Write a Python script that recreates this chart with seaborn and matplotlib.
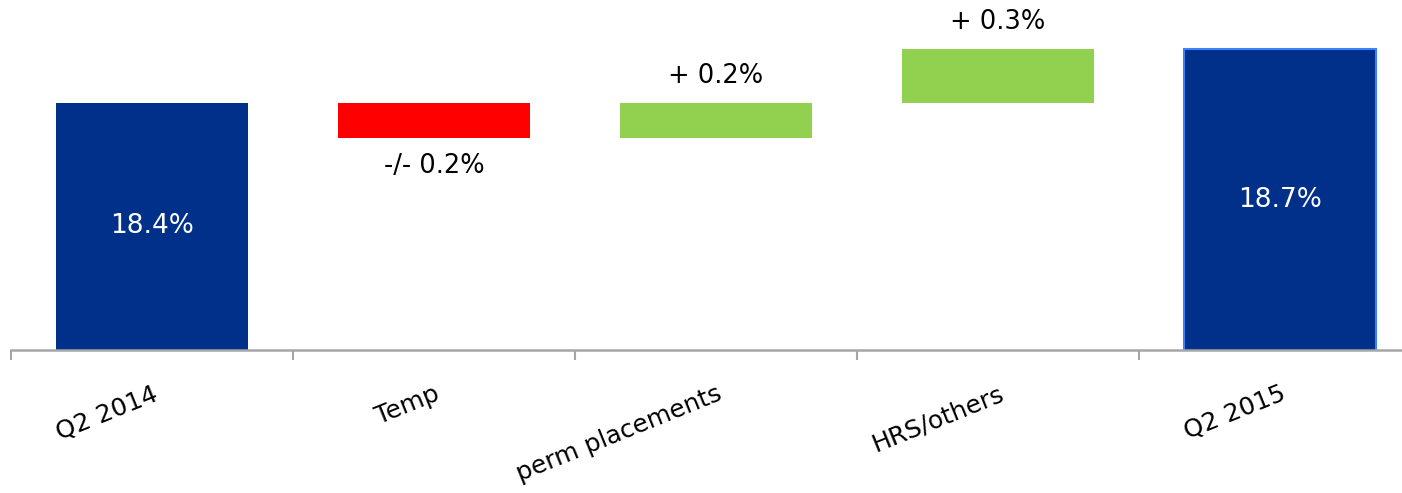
import numpy as np
import pandas as pd
import seaborn as sns
import matplotlib.pyplot as plt

# waterfall data
categories = ["Q2 2014", "Temp", "perm placements", "HRS/others", "Q2 2015"]
changes = [18.4, -0.2, 0.2, 0.3, 18.7]
kinds = ["total", "delta", "delta", "delta", "total"]
labels = ["18.4%", "-/- 0.2%", "+ 0.2%", "+ 0.3%", "18.7%"]

NAVY = "#00308A"
colors = {"total": NAVY, "up": "#92D050", "down": "#FF0000"}

# work out bar bottoms / heights
running = 0.0
bottoms, heights, bar_colors = [], [], []
for val, kind in zip(changes, kinds):
    if kind == "total":
        bottoms.append(0.0)
        heights.append(val)
        bar_colors.append(colors["total"])
        running = val
    else:
        start = running
        running = running + val
        bottoms.append(min(start, running))
        heights.append(abs(val))
        bar_colors.append(colors["up"] if val > 0 else colors["down"])

df = pd.DataFrame({"category": categories, "height": heights, "bottom": bottoms})

sns.set_style("white")
plt.rcParams["font.family"] = ["DejaVu Sans"]

fig = plt.figure(figsize=(14.02, 4.93), dpi=100)
ax = fig.add_axes([11 / 1402, 143 / 493, 1410 / 1402, 350 / 493])

sns.barplot(data=df, x="category", y="height", order=categories, bottom=np.array(bottoms),
            color=NAVY, width=0.68, ax=ax, linewidth=0)

for patch, c in zip(ax.patches, bar_colors):
    patch.set_facecolor(c)
    patch.set_edgecolor("none")
# last total bar has a lighter blue outline
ax.patches[-1].set_edgecolor("#3A80FF")
ax.patches[-1].set_linewidth(1.5)

ax.set_ylim(17.0, 18.98)
ax.set_xlim(-0.5, 4.5)

# value labels
for i, (b, h, kind, val, lab) in enumerate(zip(bottoms, heights, kinds, changes, labels)):
    if kind == "total":
        ax.text(i, (17.0 + b + h) / 2, lab, ha="center", va="center", color="white", fontsize=19)
    elif val > 0:
        ax.annotate(lab, (i, b + h), xytext=(0, 14), textcoords="offset pixels",
                    ha="center", va="bottom", fontsize=18.5, color="black")
    else:
        ax.annotate(lab, (i, b), xytext=(0, -15), textcoords="offset pixels",
                    ha="center", va="top", fontsize=18.5, color="black")

# axis styling
for s in ["top", "right", "left"]:
    ax.spines[s].set_visible(False)
ax.spines["bottom"].set_color("#A6A6A6")
ax.spines["bottom"].set_linewidth(1.8)
ax.set_yticks([])
ax.set_xlabel("")
ax.set_ylabel("")
ax.set_xticks(range(len(categories)))
ax.set_xticklabels(categories, rotation=22, ha="right", rotation_mode="anchor",
                   fontsize=18, color="black")
ax.tick_params(axis="x", which="major", length=0, pad=23)
ax.set_xticks(np.arange(-0.5, len(categories), 1.0), minor=True)
ax.tick_params(axis="x", which="minor", bottom=True, length=7.5, width=1.5,
               color="#A6A6A6", direction="out")

plt.savefig("out.png", dpi=100)
